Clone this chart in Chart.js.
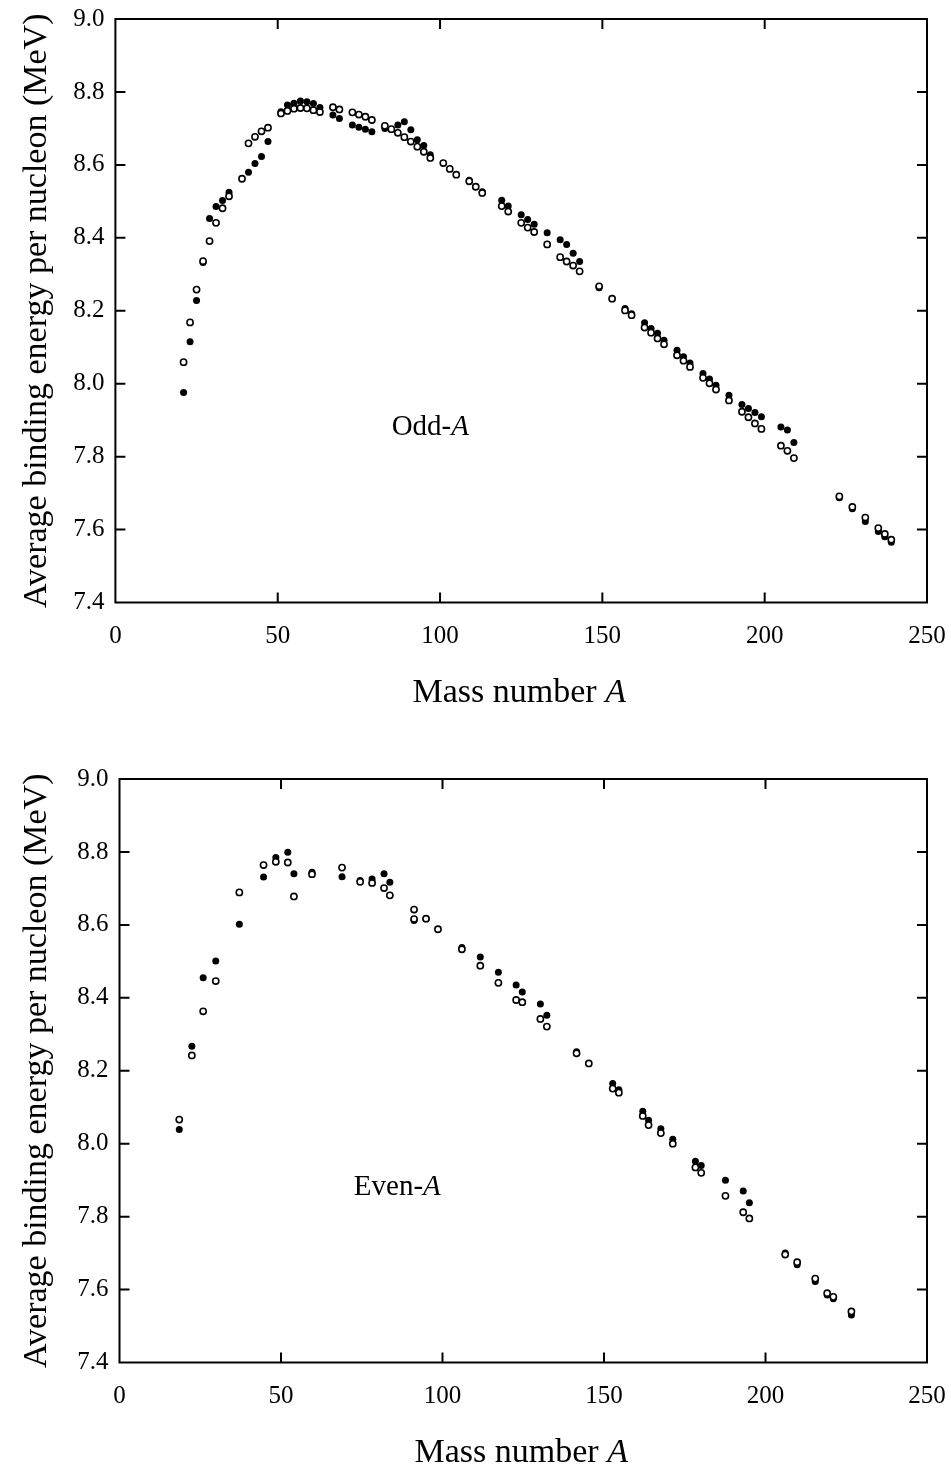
<!DOCTYPE html>
<html lang="en">
<head>
<meta charset="UTF-8">
<title>Average binding energy per nucleon</title>
<script src="https://cdn.jsdelivr.net/npm/chart.js"></script>
<style>
  body { margin: 0; background: #fff; width: 951px; height: 1468px; position: relative; overflow: hidden; }
  .panel { position: absolute; left: 0; width: 951px; height: 708px; }
</style>
</head>
<body>
<div class="panel" style="top:0"><canvas id="oddChart" width="951" height="708"></canvas></div>
<div class="panel" style="top:760px"><canvas id="evenChart" width="951" height="708"></canvas></div>
<script>
// Odd-A panel
const oddFilledA = [21,23,25,27,29,31,33,35,41,43,45,47,51,53,55,57,59,61,63,67,69,73,75,77,79,83,87,89,91,93,95,97,109,113,119,121,125,127,129,133,137,139,141,143,149,157,159,163,165,167,169,173,175,177,181,183,185,189,193,195,197,199,205,207,209,223,227,231,235,237,239];
const oddFilledE = [7.976,8.115,8.228,8.332,8.453,8.486,8.502,8.525,8.580,8.604,8.623,8.664,8.746,8.764,8.769,8.775,8.773,8.768,8.757,8.737,8.727,8.709,8.703,8.698,8.691,8.700,8.709,8.718,8.696,8.669,8.653,8.628,8.558,8.526,8.503,8.487,8.463,8.450,8.437,8.414,8.395,8.382,8.358,8.335,8.263,8.206,8.192,8.167,8.151,8.138,8.119,8.092,8.074,8.057,8.028,8.013,7.996,7.968,7.943,7.932,7.921,7.909,7.881,7.873,7.839,7.687,7.657,7.622,7.595,7.580,7.565];
const oddOpenA = [21,23,25,27,29,31,33,35,39,41,43,45,47,51,53,55,57,59,61,63,67,69,73,75,77,79,83,85,87,89,91,93,95,97,101,103,105,109,111,113,119,121,125,127,129,133,137,139,141,143,149,153,157,159,163,165,167,169,173,175,177,181,183,185,189,193,195,197,199,205,207,209,223,227,231,235,237,239];
const oddOpenE = [8.059,8.168,8.258,8.336,8.391,8.441,8.481,8.514,8.562,8.659,8.677,8.692,8.702,8.741,8.748,8.754,8.756,8.755,8.750,8.745,8.758,8.752,8.744,8.738,8.732,8.723,8.707,8.698,8.688,8.676,8.664,8.650,8.636,8.619,8.605,8.589,8.573,8.555,8.540,8.523,8.487,8.472,8.441,8.428,8.416,8.382,8.347,8.335,8.324,8.308,8.267,8.233,8.201,8.188,8.154,8.140,8.124,8.108,8.078,8.063,8.046,8.016,8.001,7.984,7.954,7.923,7.908,7.891,7.876,7.830,7.816,7.796,7.691,7.662,7.633,7.604,7.588,7.572];

// Even-A panel
const evenFilledA = [18.5,22.4,25.9,29.8,37.1,44.6,48.4,52.1,54.0,59.6,68.9,74.5,78.2,81.9,83.7,91.2,94.9,106.0,111.7,117.3,122.8,124.7,130.3,132.3,141.5,152.7,154.6,162.0,163.8,167.6,171.3,178.3,180.1,187.6,193.1,195.0,206.1,209.8,215.4,219.1,221.0,226.6];
const evenFilledE = [8.039,8.267,8.455,8.501,8.602,8.731,8.785,8.799,8.740,8.744,8.732,8.722,8.726,8.740,8.717,8.612,8.617,8.538,8.512,8.470,8.435,8.416,8.383,8.352,8.252,8.165,8.148,8.089,8.064,8.041,8.012,7.952,7.940,7.900,7.870,7.838,7.700,7.668,7.622,7.585,7.575,7.530];
const evenOpenA = [18.5,22.4,25.9,29.8,37.1,44.6,48.4,52.1,54.0,59.6,68.9,74.5,78.2,81.9,83.7,91.2,91.2,94.9,98.6,106.0,111.7,117.3,122.8,124.7,130.3,132.3,141.5,145.3,152.7,154.6,162.0,163.8,167.6,171.3,178.3,180.1,187.6,193.1,195.0,206.1,209.8,215.4,219.1,221.0,226.6];
const evenOpenE = [8.066,8.242,8.363,8.446,8.689,8.764,8.773,8.771,8.678,8.739,8.757,8.718,8.715,8.701,8.681,8.642,8.616,8.617,8.588,8.533,8.488,8.441,8.394,8.388,8.342,8.321,8.248,8.220,8.151,8.140,8.076,8.051,8.029,8.000,7.935,7.920,7.857,7.812,7.795,7.696,7.675,7.630,7.590,7.580,7.540];

const xTicks = [0, 50, 100, 150, 200, 250];
const yTicks = [7.4, 7.6, 7.8, 8.0, 8.2, 8.4, 8.6, 8.8, 9.0];

const serif = '"Liberation Serif", "Times New Roman", serif';

// draw "normal text" + "italic A" centred on (cx, cy)
function drawMixed(ctx, plain, ital, size, cx, cy) {
    const f1 = size + 'px ' + serif;
    const f2 = 'italic ' + size + 'px ' + serif;
    ctx.font = f1;
    const w1 = ctx.measureText(plain).width;
    ctx.font = f2;
    const w2 = ctx.measureText(ital).width;
    let x = cx - (w1 + w2) / 2;
    ctx.textAlign = 'left';
    ctx.textBaseline = 'middle';
    ctx.font = f1;
    ctx.fillText(plain, x, cy);
    ctx.font = f2;
    ctx.fillText(ital, x + w1, cy);
}

// box round the plot, ticks pointing inwards, x title and panel label
const framePlugin = {
    id: 'frame',
    afterDraw(chart, args, opts) {
        const ctx = chart.ctx;
        const a = chart.chartArea;
        const xs = chart.scales.x, ys = chart.scales.y;
        const len = 10;
        ctx.save();
        ctx.strokeStyle = '#000';
        ctx.fillStyle = '#000';
        ctx.lineWidth = 2;
        ctx.strokeRect(a.left, a.top, a.right - a.left, a.bottom - a.top);
        ctx.beginPath();
        xs.ticks.forEach(t => {
            if (t.value <= xs.min + 1e-6 || t.value >= xs.max - 1e-6) return;
            const px = xs.getPixelForValue(t.value);
            ctx.moveTo(px, a.bottom); ctx.lineTo(px, a.bottom - len);
            ctx.moveTo(px, a.top); ctx.lineTo(px, a.top + len);
        });
        ys.ticks.forEach(t => {
            if (t.value <= ys.min + 1e-6 || t.value >= ys.max - 1e-6) return;
            const py = ys.getPixelForValue(t.value);
            ctx.moveTo(a.left, py); ctx.lineTo(a.left + len, py);
            ctx.moveTo(a.right, py); ctx.lineTo(a.right - len, py);
        });
        ctx.stroke();

        drawMixed(ctx, 'Mass number ', 'A', 34, (a.left + a.right) / 2 - 2, a.bottom + 90.5);
        drawMixed(ctx, opts.label, 'A', 29, xs.getPixelForValue(opts.labelA), ys.getPixelForValue(opts.labelE));
        ctx.restore();
    }
};

// keep the plot box where the layout padding puts it (no room made for end labels)
function noEdgePadding(s) {
    s.paddingLeft = 0;
    s.paddingRight = 0;
    s.paddingTop = 0;
    s.paddingBottom = 0;
}

function makeChart(id, openA, openE, filledA, filledE, axisWidth, label, labelA, labelE) {
    return new Chart(document.getElementById(id), {
        type: 'scatter',
        data: {
            datasets: [
                {
                    label: 'open',
                    data: openA.map((v, i) => ({ x: v, y: openE[i] })),
                    pointRadius: 3.1,
                    pointBorderWidth: 1.6,
                    pointBackgroundColor: '#fff',
                    pointBorderColor: '#000'
                },
                {
                    label: 'filled',
                    data: filledA.map((v, i) => ({ x: v, y: filledE[i] })),
                    pointRadius: 3.5,
                    pointBorderWidth: 0,
                    pointBackgroundColor: '#000',
                    pointBorderColor: '#000'
                }
            ]
        },
        options: {
            responsive: false,
            animation: false,
            layout: { padding: { top: 19, right: 24, left: 0, bottom: 0 } },
            plugins: {
                legend: { display: false },
                tooltip: { enabled: false },
                frame: { label: label, labelA: labelA, labelE: labelE }
            },
            scales: {
                x: {
                    type: 'linear',
                    min: xTicks[0],
                    max: xTicks[xTicks.length - 1],
                    grid: { display: false, drawTicks: false },
                    border: { display: false },
                    afterBuildTicks: s => { s.ticks = xTicks.map(v => ({ value: v })); },
                    ticks: {
                        padding: 19,
                        color: '#000',
                        maxRotation: 0,
                        autoSkip: false,
                        font: { family: serif, size: 25 }
                    },
                    afterFit: s => { s.height = 105.5; noEdgePadding(s); }
                },
                y: {
                    type: 'linear',
                    min: yTicks[0],
                    max: yTicks[yTicks.length - 1],
                    grid: { display: false, drawTicks: false },
                    border: { display: false },
                    afterBuildTicks: s => { s.ticks = yTicks.map(v => ({ value: v })); },
                    ticks: {
                        padding: 11,
                        color: '#000',
                        font: { family: serif, size: 25 },
                        callback: v => Number(v).toFixed(1)
                    },
                    title: {
                        display: true,
                        text: 'Average binding energy per nucleon (MeV)',
                        color: '#000',
                        font: { family: serif, size: 34 },
                        padding: { top: 17, bottom: 0 }
                    },
                    afterFit: s => { s.width = axisWidth; noEdgePadding(s); }
                }
            }
        },
        plugins: [framePlugin]
    });
}

makeChart('oddChart', oddOpenA, oddOpenE, oddFilledA, oddFilledE, 115.4, 'Odd-', 97, 7.88);
makeChart('evenChart', evenOpenA, evenOpenE, evenFilledA, evenFilledE, 119.5, 'Even-', 86, 7.88);
</script>
</body>
</html>
